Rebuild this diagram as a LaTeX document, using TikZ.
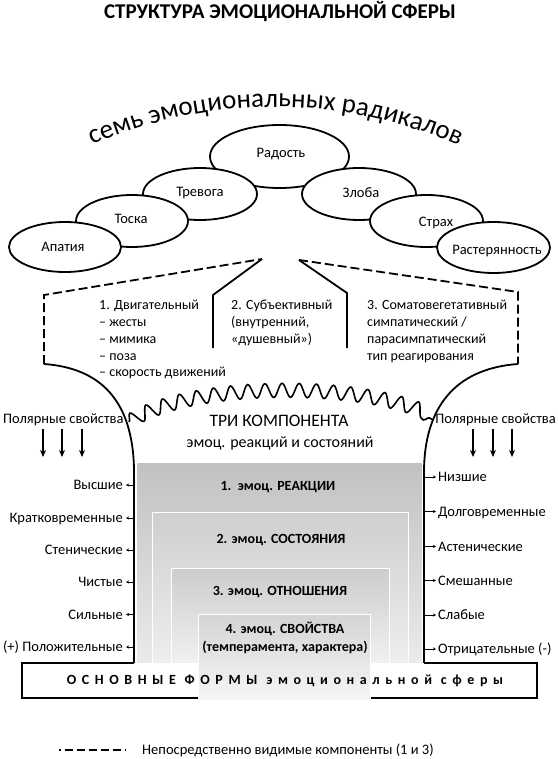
\documentclass[tikz,border=0pt]{standalone}
\usepackage{fontspec}
\setmainfont{Carlito}
\newfontfamily\spacedfont[LetterSpace=40]{Carlito}
\usetikzlibrary{decorations.text,decorations.pathmorphing,arrows.meta,shapes.geometric}
\begin{document}
\begin{tikzpicture}[x=1pt,y=-1pt,
  radical/.style={ellipse, draw, line width=1.8pt, fill=white, inner sep=0pt},
  lbl/.style={font=\fontsize{14.5}{17}\selectfont, inner sep=0pt},
  listtxt/.style={font=\fontsize{14}{17}\selectfont, inner sep=0pt, anchor=base west},
  boxtxt/.style={font=\bfseries\fontsize{14}{17}\selectfont, inner sep=0pt},
  dashedline/.style={line width=1.8pt, dash pattern=on 9pt off 4pt},
  solidline/.style={line width=1.8pt},
  polar/.style={line width=1.1pt, -{Stealth[length=7pt,width=6pt]}},
  tick/.style={line width=0.6pt, -{Stealth[length=3pt,width=3pt]}},
  layer/.style={draw=white, line width=1pt}
]
\useasboundingbox (0,0) rectangle (557,759);
\node[font=\bfseries\fontsize{21}{24}\selectfont, inner sep=0] (title) at (280,11.5) {СТРУКТУРА ЭМОЦИОНАЛЬНОЙ СФЕРЫ};

\path[decorate, decoration={text along path, text align={fit to path}, text={|\fontsize{27}{27}\selectfont|семь эмоциональных радикалов}}] (92.3,144.9) arc[start angle=-113.5, end angle=-66.5, radius=457];

% ellipses
\node[radical, minimum width=139pt, minimum height=63pt] (rad) at (279.5,156.5) {};
\node[radical, minimum width=114pt, minimum height=52pt] (trev) at (200,194) {};
\node[radical, minimum width=114pt, minimum height=52pt] (zlo) at (359,194) {};
\node[radical, minimum width=112pt, minimum height=52pt] (tos) at (132,221) {};
\node[radical, minimum width=113pt, minimum height=52pt] (str) at (426.5,221) {};
\node[radical, minimum width=112pt, minimum height=50pt] (apa) at (65,247) {};
\node[radical, minimum width=113pt, minimum height=51pt] (ras) at (493.5,247.5) {};
\node[lbl] (tRad) at (281,154) {Радость};
\node[lbl] (tTrev) at (200,193) {Тревога};
\node[lbl] (tZlo) at (361,193) {Злоба};
\node[lbl] (tTos) at (131,219) {Тоска};
\node[lbl] (tStr) at (436,223) {Страх};
\node[lbl] (tApa) at (63,247) {Апатия};
\node[lbl] (tRas) at (497,251) {Растерянность};

% upper outline
\coordinate (dl0) at (44,364); \coordinate (dl1) at (44,295); \coordinate (apL) at (262,259);
\coordinate (sl1) at (213,295); \coordinate (sl2) at (213,348);
\coordinate (apR) at (299,260); \coordinate (sr1) at (347,293); \coordinate (sr2) at (347,348);
\coordinate (dr1) at (518,292); \coordinate (dr0) at (518,364);
\draw[dashedline] (dl0) -- (dl1) -- (apL);
\draw[solidline] (apL) -- (sl1) -- (sl2);
\draw[solidline] (apR) -- (sr1) -- (sr2);
\draw[dashedline] (apR) -- (dr1) -- (dr0);

% trunk
\coordinate (wl) at (134,663); \coordinate (wr) at (424,663);
\draw[solidline] (dl0) .. controls (100,368) and (133,400) .. (134,470) -- (wl);
\draw[solidline] (dr0) .. controls (462,368) and (425,400) .. (424,470) -- (wr);

% wave
\draw[line width=1.6pt, decorate, decoration={snake, segment length=17pt, amplitude=7pt}] (129,422) .. controls (190,383) and (370,383) .. (433,420);

% component lists
\node[listtxt] (c1a) at (99,309.5) {1. Двигательный};
\node[listtxt] (c1b) at (99,326.5) {– жесты};
\node[listtxt] (c1c) at (99,343) {– мимика};
\node[listtxt] (c1d) at (99,360) {– поза};
\node[listtxt] (c1e) at (99,376.5) {– скорость движений};
\node[listtxt] (c2a) at (231,309.5) {2. Субъективный};
\node[listtxt] (c2b) at (231,326.5) {(внутренний,};
\node[listtxt] (c2c) at (231,343) {«душевный»)};
\node[listtxt] (c3a) at (367,309.5) {3. Соматовегетативный};
\node[listtxt] (c3b) at (367,326.5) {симпатический /};
\node[listtxt] (c3c) at (367,343) {парасимпатический};
\node[listtxt] (c3d) at (367,360) {тип реагирования};

\node[font=\fontsize{17.5}{20}\selectfont, inner sep=0, anchor=base] (three) at (279,426) {ТРИ КОМПОНЕНТА};
\node[font=\fontsize{16}{19}\selectfont, inner sep=0, anchor=base] (three2) at (280,447.5) {эмоц. реакций и состояний};

% polar
\node[lbl, anchor=base west] (polL) at (3,423) {Полярные свойства};
\node[lbl, anchor=base east] (polR) at (556,423) {Полярные свойства};
\foreach \x [count=\i] in {43,62,82} {\draw[polar] (\x,429) coordinate (pla\i) -- (\x,457) coordinate (plb\i);}
\foreach \x [count=\i] in {473,493,512} {\draw[polar] (\x,429) coordinate (pra\i) -- (\x,457) coordinate (prb\i);}

% nested forms
\shade[top color=gray!48, bottom color=gray!16] (137.5,463) rectangle (421.5,663);
\shade[layer, top color=gray!38, bottom color=gray!13] (152,512) rectangle (408,663);
\shade[layer, top color=gray!40, bottom color=gray!11] (171,568) rectangle (389,663);

% base bar
\path[fill=white] (22,663) rectangle (537,698);
\draw[solidline] (wl) -- (22,663) -- (22,698) -- (537,698) -- (537,663) -- (wr);
\shade[layer, top color=gray!34, bottom color=gray!7] (198.5,614) rectangle (370,700);

\node[boxtxt] (f1) at (278,487) {1.\ \ эмоц. РЕАКЦИИ};
\node[boxtxt] (f2) at (281,540) {2. эмоц. СОСТОЯНИЯ};
\node[boxtxt] (f3) at (280,592) {3. эмоц. ОТНОШЕНИЯ};
\node[boxtxt] (f4) at (285,629) {4. эмоц. СВОЙСТВА};
\node[boxtxt] (f4b) at (285,647) {(темперамента, характера)};
\node[font=\spacedfont\bfseries\fontsize{14}{17}\selectfont, inner sep=0] (bar) at (285,681) {ОСНОВНЫЕ ФОРМЫ эмоциональной сферы};

% left properties
\foreach \t/\y [count=\i] in {Высшие/485, Кратковременные/518, Стенические/550, Чистые/582, Сильные/614.5, (+) Положительные/647} {
  \node[lbl, anchor=base east] (pl\i) at (123,\y+4.5) {\t};
  \coordinate (wl\i) at (134,\y);
  \draw[tick] (wl\i) -- ([xshift=3pt]pl\i.east |- wl\i);
}
% right properties
\foreach \t/\y [count=\i] in {Низшие/477, Долговременные/511.5, Астенические/546.5, Смешанные/580.5, Слабые/615, Отрицательные (-)/649} {
  \node[lbl, anchor=base west] (pr\i) at (438,\y+4.5) {\t};
  \coordinate (wr\i) at (424,\y);
  \draw[tick] (wr\i) -- ([xshift=-2pt]pr\i.west |- wr\i);
}

% legend
\coordinate (lg0) at (59,750); \coordinate (lg1) at (126,750);
\draw[line width=1.6pt, dash pattern=on 8.5pt off 3.5pt, dash phase=6.5pt] (lg0) -- (lg1);
\node[lbl, anchor=west] (legend) at (142,750) {Непосредственно видимые компоненты (1 и 3)};
\end{tikzpicture}
\end{document}
